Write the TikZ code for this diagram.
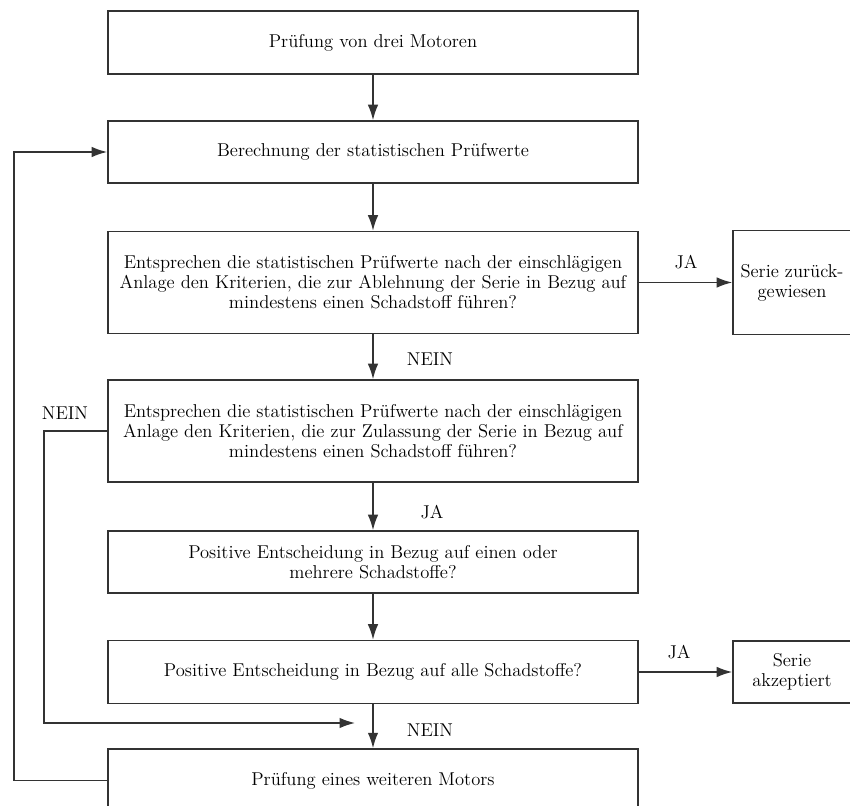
\documentclass[tikz,border=0pt]{standalone}
\usepackage{tikz}
\usetikzlibrary{arrows.meta,positioning,calc}
\definecolor{linie}{HTML}{333333}
\tikzset{
  kasten/.style={rectangle, draw=linie, line width=1.1pt, align=center, inner sep=2pt,
                 font=\fontsize{13.2}{14.3}\selectfont, minimum width=13.25cm, minimum height=#1},
  kasten/.default=1.55cm,
  seite/.style={rectangle, draw=linie, line width=1.1pt, align=center, inner sep=2pt,
                font=\fontsize{13.2}{14.3}\selectfont, minimum width=2.95cm, minimum height=#1},
  pfeil/.style={-{Latex[length=11pt,width=7.5pt]}, line width=1.1pt, draw=linie},
  marke/.style={font=\fontsize{13.2}{14.3}\selectfont, inner sep=0pt},
}

\begin{document}
\begin{tikzpicture}[x=0.025cm, y=-0.025cm]
    \clip (0,0) rectangle (850,806);
    \node[kasten=1.575cm] (a) at (373,42.5) {Prüfung von drei Motoren};
    \node[kasten] (b) at (373,152) {Berechnung der statistischen Prüfwerte};
    \node[kasten=2.55cm] (c) at (373,282.5) {Entsprechen die statistischen Prüfwerte nach der einschlägigen\\ Anlage den Kriterien, die zur Ablehnung der Serie in Bezug auf\\ mindestens einen Schadstoff führen?};
    \node[kasten=2.55cm] (d) at (373,431) {Entsprechen die statistischen Prüfwerte nach der einschlägigen\\ Anlage den Kriterien, die zur Zulassung der Serie in Bezug auf\\ mindestens einen Schadstoff führen?};
    \node[kasten] (e) at (373,562) {Positive Entscheidung in Bezug auf einen oder\\ mehrere Schadstoffe?};
    \node[kasten=1.575cm] (f) at (373,672) {Positive Entscheidung in Bezug auf alle Schadstoffe?};
    \node[kasten=1.575cm] (g) at (373,780.5) {Prüfung eines weiteren Motors};
    \node[seite=2.6cm] (x) at (792,282.5) {Serie zurück-\\ gewiesen};
    \node[seite=1.55cm] (y) at (792,672) {Serie\\ akzeptiert};
    \coordinate (m) at (355,723);
    \draw[pfeil] (a) -- (b);
    \draw[pfeil] (b) -- (c);
    \draw[pfeil] (c) -- (d);
    \draw[pfeil] (d) -- (e);
    \draw[pfeil] (e) -- (f);
    \draw[pfeil] (f) -- (g);
    \draw[pfeil] (c) -- (x);
    \draw[pfeil] (f) -- (y);
    \draw[pfeil] (g.west) -- ++(-93,0) |- (b.west);
    \draw[pfeil] (d.west) -- ++(-63,0) |- (m);
    \node[marke] (n1) at (430,359) {NEIN};
    \node[marke] (j1) at (432,512) {JA};
    \node[marke] (n2) at (430,730) {NEIN};
    \node[marke] (n3) at (65,413) {NEIN};
    \node[marke] (j2) at (686,262) {JA};
    \node[marke] (j3) at (679,652) {JA};
  \end{tikzpicture}
\end{document}
